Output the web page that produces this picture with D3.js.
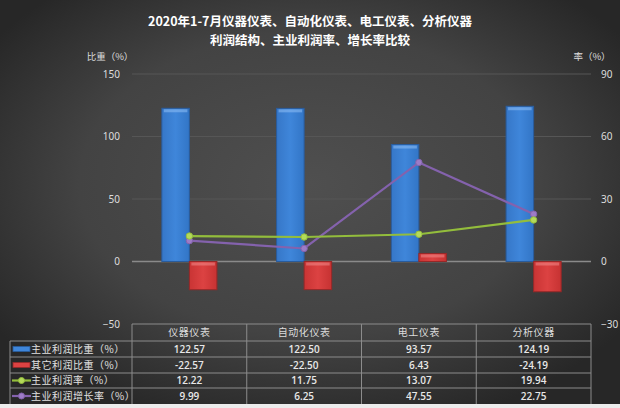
<!DOCTYPE html>
<html><head><meta charset="utf-8">
<script src="https://cdn.jsdelivr.net/npm/d3@7/dist/d3.min.js"></script>
<style>
html,body{margin:0;padding:0;background:#333;}
svg{display:block;font-family:"Noto Sans CJK SC","Noto Sans",sans-serif;}
</style></head>
<body><svg id="c" width="620" height="408"></svg>
<script>
const categories = ["仪器仪表","自动化仪表","电工仪表","分析仪器"];
const mainShare = [122.57,122.50,93.57,124.19];
const otherShare = [-22.57,-22.50,6.43,-24.19];
const profitRate = [12.22,11.75,13.07,19.94];
const growthRate = [9.99,6.25,47.55,22.75];
const leftTicks = [-50,0,50,100,150];
const rightTicks = [-30,0,30,60,90];
const seriesNames = ["主业利润比重（%）","其它利润比重（%）","主业利润率（%）","主业利润增长率（%）"];
const titleLines = ["2020年1-7月仪器仪表、自动化仪表、电工仪表、分析仪器","利润结构、主业利润率、增长率比较"];

const W=620,H=408;
const plot={l:132,r:591,t:74,b:324};
const svg=d3.select("#c");
const defs=svg.append("defs");

const bg=defs.append("radialGradient").attr("id","bg").attr("cx","0.5").attr("cy","0.45").attr("r","0.62");
bg.append("stop").attr("offset","0").attr("stop-color","#4f4f4f");
bg.append("stop").attr("offset","0.6").attr("stop-color","#434343");
bg.append("stop").attr("offset","1").attr("stop-color","#272727");
svg.append("rect").attr("width",W).attr("height",H).attr("fill","url(#bg)");
svg.append("rect").attr("x",0).attr("y",404).attr("width",W).attr("height",4).attr("fill","#ececec");

function barGrad(id,c1,c2,c3){
  const g=defs.append("linearGradient").attr("id",id).attr("x1",0).attr("x2",1).attr("y1",0).attr("y2",0);
  g.append("stop").attr("offset","0").attr("stop-color",c1);
  g.append("stop").attr("offset","0.5").attr("stop-color",c2);
  g.append("stop").attr("offset","1").attr("stop-color",c3);
}
barGrad("gb","#3677c8","#3f86da","#3275c6");
barGrad("gr","#c93434","#dc4242","#c63232");

const x=d3.scaleBand().domain(categories).range([plot.l,plot.r]);
const yL=d3.scaleLinear().domain([-50,150]).range([plot.b,plot.t]);
const yR=d3.scaleLinear().domain([-30,90]).range([plot.b,plot.t]);
const xs=d3.scaleBand().domain(["main","other"]).range([x.bandwidth()*0.26,x.bandwidth()*0.74]);

// title
svg.append("g").selectAll("text").data(titleLines).join("text")
  .attr("x",310).attr("y",(d,i)=>26+i*19).attr("text-anchor","middle")
  .attr("fill","#ffffff").attr("font-size",12.5).attr("font-weight","bold").text(d=>d);
svg.append("text").attr("x",110).attr("y",60).attr("text-anchor","middle").attr("fill","#dddddd").attr("font-size",9.5).text("比重（%）");
svg.append("text").attr("x",592).attr("y",60).attr("text-anchor","middle").attr("fill","#dddddd").attr("font-size",9.5).text("率（%）");

// gridlines
svg.append("g").selectAll("line").data(leftTicks.filter(t=>t>-50)).join("line")
  .attr("x1",plot.l).attr("x2",plot.r).attr("y1",d=>yL(d)).attr("y2",d=>yL(d))
  .attr("stroke",d=>d===0?"#8a8a8a":"#565656").attr("stroke-width",d=>d===0?1.6:1);

// axes
const axL=svg.append("g").attr("transform",`translate(${plot.l},0)`).call(d3.axisLeft(yL).tickValues(leftTicks).tickSize(0).tickPadding(12));
const axR=svg.append("g").attr("transform",`translate(${plot.r},0)`).call(d3.axisRight(yR).tickValues(rightTicks).tickSize(0).tickPadding(10));
[axL,axR].forEach(a=>{a.select(".domain").remove();a.selectAll("text").attr("fill","#dddddd").attr("font-size",10).attr("font-family","'Noto Sans','DejaVu Sans',sans-serif");});

// bars
const bars=svg.append("g");
function drawBars(vals,key,fill,stroke,hl){
  const g=bars.append("g");
  g.selectAll("rect.b").data(vals).join("rect").attr("class","b")
    .attr("x",(d,i)=>x(categories[i])+xs(key)).attr("width",xs.bandwidth())
    .attr("y",d=>yL(Math.max(0,d))).attr("height",d=>Math.abs(yL(d)-yL(0)))
    .attr("fill",fill).attr("stroke",stroke).attr("stroke-width",1);
  g.selectAll("rect.h").data(vals).join("rect").attr("class","h")
    .attr("x",(d,i)=>x(categories[i])+xs(key)+2).attr("width",xs.bandwidth()-4)
    .attr("y",d=>yL(Math.max(0,d))+1).attr("height",3)
    .attr("fill",hl).attr("opacity",0.55);
}
drawBars(mainShare,"main","url(#gb)","#2a5c9c","#8fc0f5");
drawBars(otherShare,"other","url(#gr)","#962828","#f08a8a");

// lines
function drawLine(vals,color,mfill){
  const pts=vals.map((v,i)=>[x(categories[i])+x.bandwidth()/2,yR(v)]);
  svg.append("path").attr("d",d3.line()(pts)).attr("fill","none").attr("stroke",color).attr("stroke-width",2.2);
  svg.append("g").selectAll("circle").data(pts).join("circle")
    .attr("cx",d=>d[0]).attr("cy",d=>d[1]).attr("r",3.2).attr("fill",mfill).attr("stroke",color).attr("stroke-width",1);
}
drawLine(growthRate,"#8462ad","#9d7cc6");
drawLine(profitRate,"#93bd3c","#b4da5a");

// table
const rowY=[324,341,357,373,388,404];
const tbl=svg.append("g");
const colX=[plot.l,...categories.map(c=>x(c)+x.bandwidth())];
const lc="#8c8c8c";
tbl.append("line").attr("x1",plot.l).attr("x2",plot.r).attr("y1",rowY[0]).attr("y2",rowY[0]).attr("stroke",lc);
rowY.slice(1,5).forEach(y=>tbl.append("line").attr("x1",10).attr("x2",plot.r).attr("y1",y).attr("y2",y).attr("stroke",lc));
colX.forEach(cx=>tbl.append("line").attr("x1",cx).attr("x2",cx).attr("y1",rowY[0]).attr("y2",rowY[5]).attr("stroke",lc));
tbl.append("line").attr("x1",10).attr("x2",10).attr("y1",rowY[1]).attr("y2",rowY[5]).attr("stroke",lc);

tbl.selectAll("text.hd").data(categories).join("text").attr("class","hd")
  .attr("x",d=>x(d)+x.bandwidth()/2).attr("y",(rowY[0]+rowY[1])/2+3.5).attr("text-anchor","middle")
  .attr("fill","#dcdcdc").attr("font-size",10).attr("letter-spacing",0.6).text(d=>d);

const allSeries=[mainShare,otherShare,profitRate,growthRate];
allSeries.forEach((vals,r)=>{
  const yc=(rowY[r+1]+rowY[r+2])/2;
  tbl.append("g").selectAll("text").data(vals).join("text")
    .attr("x",(d,i)=>x(categories[i])+x.bandwidth()/2).attr("y",yc+3.5).attr("text-anchor","middle")
    .attr("fill","#e8e8e8").attr("font-size",10).attr("font-weight","600")
    .attr("font-family","'Open Sans','Noto Sans',sans-serif").text(d=>d.toFixed(2));
  tbl.append("text").attr("x",31).attr("y",yc+3.5).attr("fill","#e0e0e0").attr("font-size",10).attr("letter-spacing",0.5).text(seriesNames[r]);
});
// legend icons
const iy=r=>(rowY[r+1]+rowY[r+2])/2;
tbl.append("rect").attr("x",13).attr("y",iy(0)-2.5).attr("width",17).attr("height",5).attr("fill","#3f86da").attr("stroke","#2a5c9c").attr("stroke-width",0.8);
tbl.append("rect").attr("x",13).attr("y",iy(1)-2.5).attr("width",17).attr("height",5).attr("fill","#dc4242").attr("stroke","#962828").attr("stroke-width",0.8);
[[2,"#93bd3c","#b4da5a"],[3,"#8462ad","#9d7cc6"]].forEach(([r,c,f])=>{
  tbl.append("line").attr("x1",12).attr("x2",31).attr("y1",iy(r)).attr("y2",iy(r)).attr("stroke",c).attr("stroke-width",2.2);
  tbl.append("circle").attr("cx",21.5).attr("cy",iy(r)).attr("r",3).attr("fill",f).attr("stroke",c);
});
</script></body></html>
